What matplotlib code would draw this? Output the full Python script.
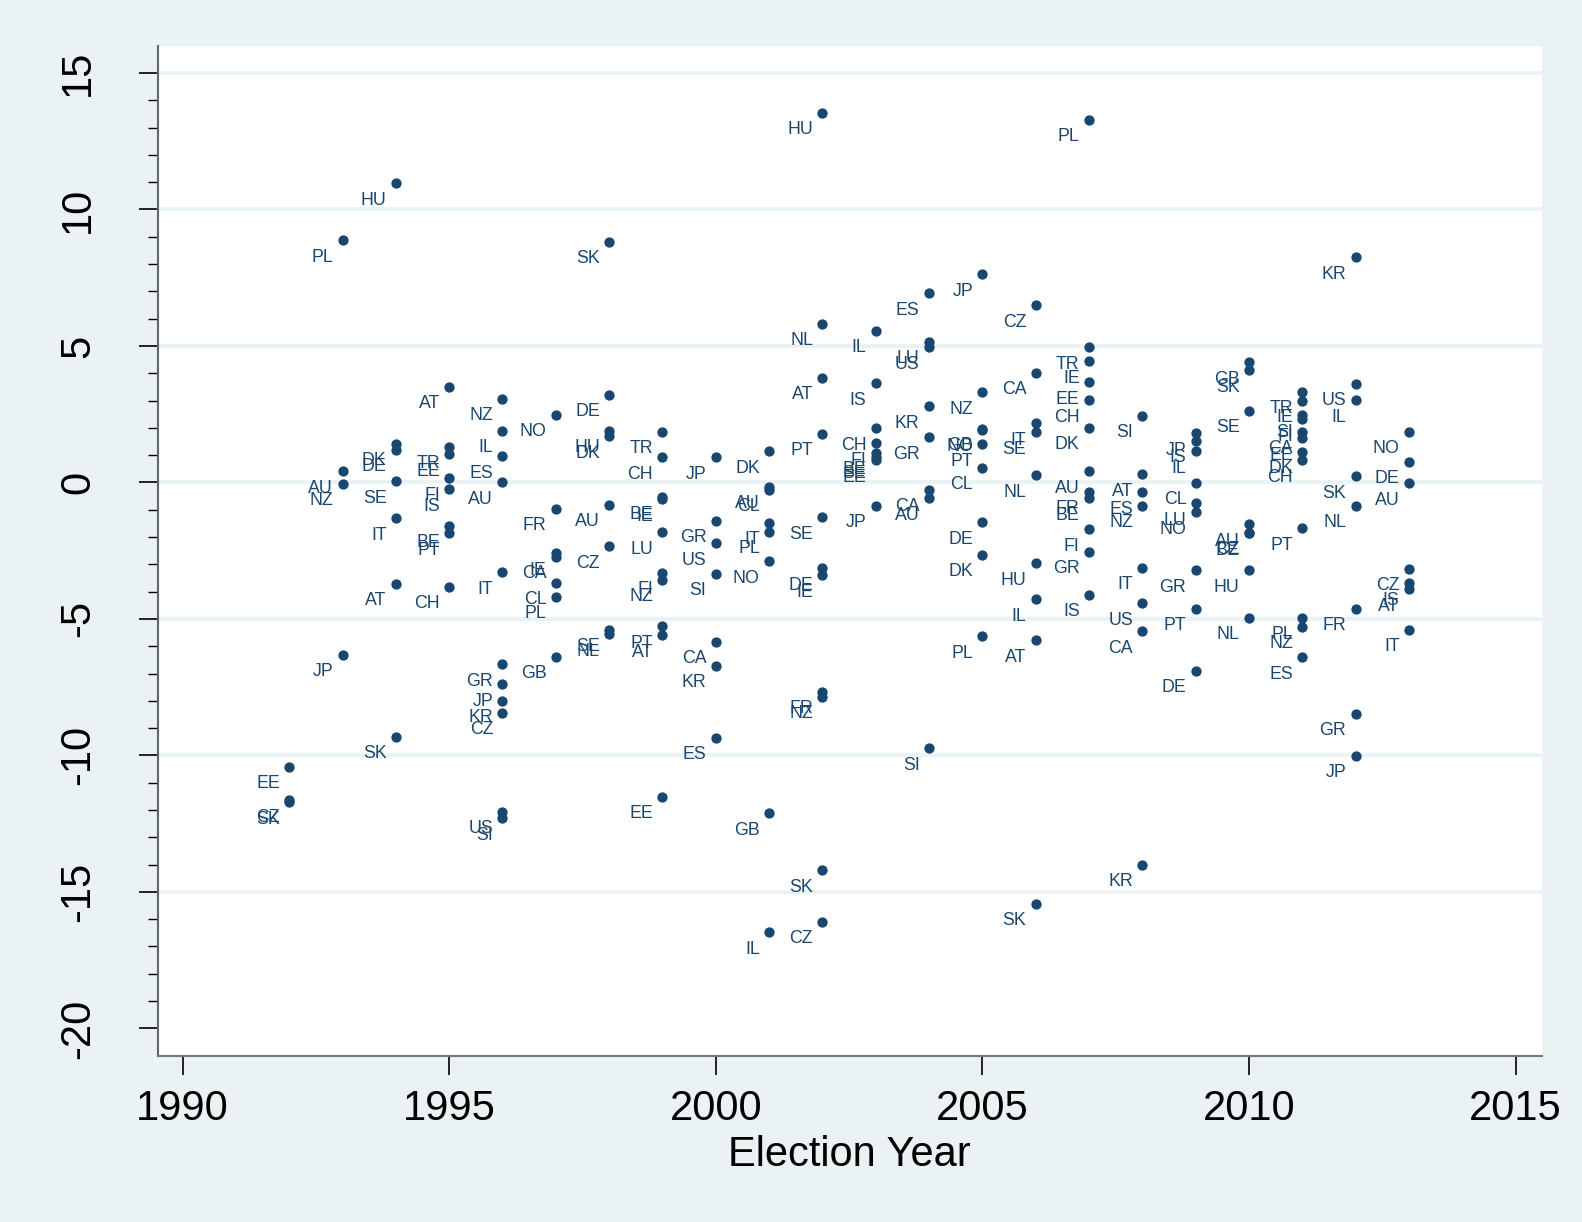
import numpy as np
import matplotlib
matplotlib.use("Agg")
import matplotlib.pyplot as plt

plt.rcParams['font.family'] = ['Liberation Sans', 'DejaVu Sans']
plt.rcParams['axes.unicode_minus'] = False

navy = '#1a476f'
bg = '#eaf2f3'

country = [
    'EE', 'CZ', 'SK',
    'PL', 'AU', 'NZ', 'JP',
    'HU', 'DK', 'DE', 'SE', 'IT', 'AT', 'SK',
    'AT', 'TR', 'EE', 'FI', 'IS', 'BE', 'PT', 'CH',
    'NZ', 'IL', 'ES', 'AU', 'IT', 'GR', 'JP', 'KR', 'CZ', 'US', 'SI',
    'NO', 'FR', 'IE', 'CA', 'CL', 'PL', 'GB',
    'SK', 'DE', 'HU', 'DK', 'AU', 'CZ', 'SE', 'NL',
    'TR', 'CH', 'BE', 'IE', 'LU', 'FI', 'NZ', 'PT', 'AT', 'EE',
    'JP', 'GR', 'US', 'SI', 'CA', 'KR', 'ES',
    'DK', 'AU', 'CL', 'IT', 'PL', 'NO', 'GB', 'IL',
    'HU', 'NL', 'AT', 'PT', 'SE', 'DE', 'IE', 'FR', 'NZ', 'SK', 'CZ',
    'IL', 'IS', 'CH', 'FI', 'BE', 'SE', 'EE', 'JP',
    'ES', 'LU', 'US', 'KR', 'GR', 'CA', 'AU', 'SI',
    'JP', 'NZ', 'GB', 'NO', 'PT', 'CL', 'DE', 'DK', 'PL',
    'CZ', 'CA', 'IT', 'SE', 'NL', 'HU', 'IL', 'AT', 'SK',
    'PL', 'TR', 'IE', 'EE', 'CH', 'DK', 'AU', 'FR', 'BE', 'FI', 'GR', 'IS',
    'SI', 'AT', 'ES', 'NZ', 'IT', 'US', 'CA', 'KR',
    'JP', 'IS', 'IL', 'CL', 'LU', 'NO', 'GR', 'PT', 'DE',
    'GB', 'SK', 'SE', 'AU', 'BE', 'CZ', 'HU', 'NL',
    'TR', 'IE', 'SI', 'FI', 'CA', 'EE', 'DK', 'CH', 'PT', 'PL', 'NZ', 'ES',
    'KR', 'US', 'IL', 'SK', 'NL', 'FR', 'GR', 'JP',
    'NO', 'DE', 'AU', 'CZ', 'IS', 'AT', 'IT',
]

year = (
    [1992] * 3 + [1993] * 4 + [1994] * 7 + [1995] * 8 + [1996] * 11
    + [1997] * 7 + [1998] * 8 + [1999] * 10 + [2000] * 7 + [2001] * 8
    + [2002] * 11 + [2003] * 8 + [2004] * 8 + [2005] * 9 + [2006] * 9
    + [2007] * 12 + [2008] * 8 + [2009] * 9 + [2010] * 8 + [2011] * 12
    + [2012] * 8 + [2013] * 7
)

change = [
    -10.41, -11.65, -11.72,
    8.88, 0.42, -0.05, -6.32,
    10.96, 1.41, 1.19, 0.05, -1.31, -3.71, -9.31,
    3.51, 1.31, 1.04, 0.15, -0.24, -1.58, -1.87, -3.82,
    3.06, 1.90, 0.97, 0.01, -3.28, -6.65, -7.39, -8.00, -8.43, -12.06, -12.30,
    2.48, -0.97, -2.59, -2.72, -3.67, -4.19, -6.39,
    8.82, 3.21, 1.89, 1.70, -0.82, -2.34, -5.40, -5.56,
    1.86, 0.92, -0.55, -0.62, -1.82, -3.30, -3.57, -5.26, -5.59, -11.52,
    0.93, -1.41, -2.22, -3.34, -5.83, -6.72, -9.36,
    1.15, -0.15, -0.27, -1.47, -1.80, -2.88, -12.12, -16.48,
    13.55, 5.81, 3.84, 1.78, -1.27, -3.14, -3.39, -7.66, -7.85, -14.20, -16.09,
    5.55, 3.63, 1.98, 1.44, 1.09, 0.95, 0.82, -0.85,
    6.93, 5.16, 4.95, 2.79, 1.66, -0.27, -0.58, -9.73,
    7.63, 3.30, 1.97, 1.93, 1.40, 0.54, -1.45, -2.64, -5.63,
    6.50, 4.02, 2.17, 1.84, 0.26, -2.96, -4.28, -5.78, -15.44,
    13.29, 4.96, 4.45, 3.67, 3.02, 2.01, 0.42, -0.34, -0.58, -1.72, -2.53, -4.11,
    2.45, 0.30, -0.35, -0.86, -3.12, -4.43, -5.46, -14.01,
    1.80, 1.52, 1.15, -0.01, -0.76, -1.09, -3.22, -4.62, -6.90,
    4.41, 4.12, 2.63, -1.53, -1.87, -1.85, -3.22, -4.96,
    3.33, 2.99, 2.47, 2.31, 1.86, 1.62, 1.13, 0.82, -1.67, -4.96, -5.29, -6.40,
    8.25, 3.61, 3.01, 0.23, -0.86, -4.62, -8.47, -10.01,
    1.85, 0.76, -0.02, -3.16, -3.69, -3.91, -5.39,
]

y_ticks = [-20, -15, -10, -5, 0, 5, 10, 15]
x_ticks = [1990, 1995, 2000, 2005, 2010, 2015]
grid_vals = [-15, -10, -5, 0, 5, 10, 15]

fig = plt.figure(figsize=(15.82, 12.22), dpi=100, facecolor=bg)
ax = fig.add_axes([0.0999, 0.1361, 0.8746, 0.8265])
ax.set_facecolor('white')

for g in grid_vals:
    ax.axhline(g, color=bg, lw=2.7, zorder=0)

ax.scatter(year, change, s=55, color=navy, zorder=3, linewidths=0)
for c, xx, yy in zip(country, year, change):
    ax.annotate(c, (xx, yy), xytext=(-6.7, -15.5), textcoords='offset points',
                ha='right', va='baseline', fontsize=12.8, color=navy, zorder=4)

ax.set_xlim(1989.54, 2015.49)
ax.set_ylim(-21, 16)
ax.set_xticks(x_ticks)
ax.set_xticklabels([str(t) for t in x_ticks])
ax.set_yticks(y_ticks)
ax.set_yticklabels([str(t) for t in y_ticks], rotation=90, va='center')
ax.set_yticks(np.arange(-20, 16, 1), minor=True)

ax.tick_params(axis='both', which='major', labelsize=30, length=14, width=1.2,
               color='black')
ax.tick_params(axis='y', which='major', pad=29)
ax.tick_params(axis='x', which='major', pad=10)
ax.tick_params(axis='y', which='minor', length=7, width=1.0, color='black')
ax.tick_params(axis='x', which='minor', length=0)

for side in ['top', 'right']:
    ax.spines[side].set_visible(False)
ax.spines['left'].set_color('#666666')
ax.spines['bottom'].set_color('#777777')
ax.spines['left'].set_linewidth(1.5)
ax.spines['bottom'].set_linewidth(1.5)

ax.set_xlabel('Election Year', fontsize=30, labelpad=4)

fig.savefig('out.png', dpi=100, facecolor=bg)
